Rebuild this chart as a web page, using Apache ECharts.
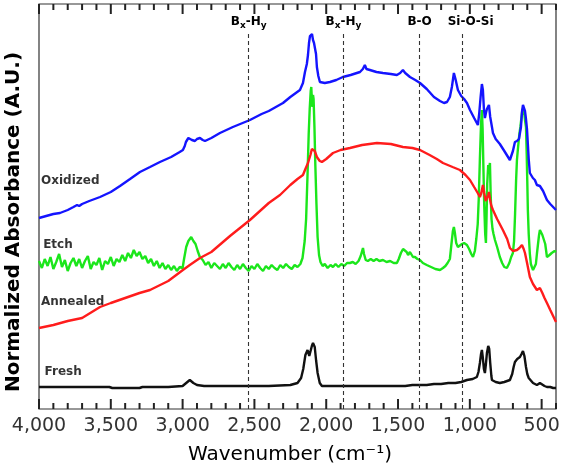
<!DOCTYPE html>
<html>
<head>
<meta charset="utf-8">
<script src="https://cdn.jsdelivr.net/npm/echarts@6/dist/echarts.min.js"></script>
<style>
  html, body { margin: 0; padding: 0; background: #ffffff; }
  #chart { width: 561px; height: 468px; }
</style>
</head>
<body>
<div id="chart"></div>
<script>
// FTIR spectra of the four film states, [wavenumber (cm-1), stacked absorbance (A.U.)]
const fresh = [
  [4000,22],[3800,22],[3600,22],[3510,22],[3490,21],[3400,21],[3300,21],[3280,22],[3100,22],[3000,23],
  [2975,26],[2950,29],[2925,26],[2900,24],[2850,23],[2600,23],[2400,23],[2250,24],[2200,26],[2175,31],
  [2160,40],[2145,54],[2130,59],[2118,53],[2110,55],[2100,63],[2092,66],[2080,62],[2070,48],[2060,36],
  [2045,26],[2030,23],[1900,23],[1700,23],[1500,23],[1450,23],[1400,24],[1350,24],[1300,24],[1250,25],
  [1200,25],[1150,26],[1100,26],[1060,27],[1020,29],[980,30],[951,32],[940,37],[930,46],[922,55],
  [916,59],[910,52],[902,40],[895,36],[888,45],[881,56],[872,63],[865,60],[858,46],[850,33],
  [846,29],[820,27],[791,26],[760,27],[721,29],[705,35],[695,42],[686,47],[670,50],[660,49],
  [651,52],[640,55],[630,58],[620,53],[609,42],[600,35],[590,31],[582,29],[560,26],[533,24],
  [520,25],[512,26],[500,25],[480,23],[463,22],[440,22],[420,21],[400,21]
];

const etch = [
  [4000,148],[3980,141],[3960,150],[3940,143],[3920,152],[3900,140],[3880,147],[3860,155],[3840,142],[3820,149],
  [3800,138],[3780,146],[3760,151],[3740,143],[3720,150],[3700,141],[3680,148],[3660,153],[3640,140],[3620,147],
  [3600,144],[3580,151],[3560,139],[3540,148],[3520,145],[3500,152],[3480,143],[3460,150],[3440,147],[3420,154],
  [3400,148],[3380,156],[3360,151],[3340,159],[3320,153],[3300,157],[3280,150],[3260,153],[3240,146],[3220,150],
  [3200,143],[3180,148],[3160,141],[3140,146],[3120,140],[3100,144],[3080,139],[3060,143],[3040,138],[3020,142],
  [3000,141],[2990,150],[2975,162],[2960,168],[2950,166],[2940,172],[2925,168],[2910,165],[2895,158],[2880,152],
  [2860,149],[2840,144],[2820,147],[2800,141],[2780,146],[2760,143],[2740,140],[2720,145],[2700,141],[2680,146],
  [2660,142],[2640,139],[2620,144],[2600,140],[2580,145],[2560,141],[2540,138],[2520,143],[2500,140],[2480,145],
  [2460,141],[2440,138],[2420,143],[2400,140],[2380,144],[2360,141],[2340,139],[2320,144],[2300,141],[2280,145],
  [2260,142],[2240,140],[2220,144],[2200,142],[2180,145],[2165,151],[2150,168],[2140,190],[2130,235],[2122,275],
  [2115,300],[2108,318],[2104,322],[2100,310],[2096,302],[2092,314],[2088,310],[2082,282],[2076,245],[2068,205],
  [2060,172],[2050,154],[2040,147],[2025,143],[2010,145],[1990,141],[1970,144],[1953,142],[1935,145],[1915,142],
  [1895,145],[1875,143],[1855,146],[1835,146],[1815,147],[1795,145],[1775,148],[1760,153],[1750,158],[1744,161],
  [1737,155],[1725,149],[1710,148],[1690,150],[1670,148],[1650,150],[1630,148],[1605,149],[1580,147],[1555,148],
  [1530,146],[1508,146],[1495,150],[1480,156],[1465,160],[1452,161],[1440,157],[1430,154],[1417,157],[1405,155],
  [1396,152],[1382,152],[1365,150],[1347,149],[1327,146],[1300,144],[1270,142],[1240,140],[1208,139],[1187,141],
  [1170,143],[1155,146],[1139,150],[1128,165],[1118,178],[1111,182],[1104,176],[1095,166],[1083,162],[1070,163],
  [1055,165],[1040,166],[1020,164],[1005,160],[990,155],[978,152],[965,158],[955,170],[945,185],[938,210],
  [930,250],[922,285],[916,299],[911,280],[906,245],[900,205],[893,175],[888,166],[884,190],[879,225],
  [872,244],[866,240],[860,246],[855,215],[849,190],[842,180],[835,175],[825,169],[810,162],[791,152],
  [775,146],[760,142],[742,141],[725,146],[712,152],[700,156],[692,168],[685,195],[678,228],[672,249],
  [664,262],[655,275],[648,282],[640,292],[633,300],[628,302],[622,297],[615,288],[609,282],[604,255],
  [600,228],[596,199],[590,175],[582,155],[575,145],[568,142],[560,139],[547,137],[540,145],[533,155],
  [526,164],[518,174],[512,179],[504,177],[495,174],[484,172],[475,165],[463,152],[455,151],[445,154],
  [430,156],[420,155],[410,158],[400,157]
];

const annealed = [
  [4000,81],[3900,84],[3800,88],[3700,91],[3575,102],[3500,106],[3400,111],[3300,116],[3227,119],[3100,128],
  [2998,139],[2950,144],[2879,151],[2800,157],[2670,173],[2531,189],[2400,206],[2322,214],[2250,224],[2200,230],
  [2162,234],[2145,240],[2127,246],[2110,254],[2100,260],[2092,262],[2080,258],[2065,252],[2045,248],[2030,247],
  [2000,250],[1953,256],[1900,259],[1835,261],[1750,264],[1647,266],[1550,265],[1466,262],[1400,261],[1347,259],
  [1280,254],[1230,250],[1187,246],[1120,242],[1069,239],[1030,234],[999,229],[970,222],[945,216],[930,212],
  [920,216],[909,224],[900,216],[890,208],[881,206],[872,214],[867,217],[860,210],[850,203],[839,199],
  [810,190],[770,179],[740,170],[721,161],[700,158],[672,159],[655,161],[637,164],[625,160],[616,156],
  [600,145],[582,132],[560,125],[533,119],[520,120],[512,121],[495,116],[480,111],[463,106],[440,99],
  [420,93],[400,87]
];

const oxidized = [
  [4000,191],[3950,193],[3900,195],[3854,196],[3800,199],[3760,202],[3735,204],[3720,203],[3700,205],[3650,208],
  [3575,212],[3500,217],[3436,223],[3366,230],[3297,237],[3227,242],[3158,247],[3080,252],[3020,257],[2998,259],
  [2985,263],[2977,267],[2960,271],[2949,272],[2935,269],[2914,268],[2900,270],[2879,271],[2860,269],[2844,268],
  [2800,271],[2740,276],[2650,282],[2531,289],[2450,295],[2400,298],[2301,306],[2250,312],[2183,319],[2162,326],
  [2148,337],[2135,345],[2127,354],[2120,366],[2113,373],[2106,374],[2099,375],[2092,369],[2085,366],[2078,364],
  [2071,355],[2065,342],[2055,333],[2044,327],[2010,326],[1974,327],[1930,329],[1884,332],[1830,334],[1765,337],
  [1745,340],[1731,344],[1720,340],[1696,339],[1650,337],[1605,336],[1550,335],[1508,334],[1485,336],[1466,339],
  [1450,336],[1417,332],[1380,329],[1347,326],[1300,320],[1250,312],[1208,308],[1180,306],[1159,307],[1139,312],
  [1125,322],[1111,336],[1100,330],[1083,319],[1060,313],[1040,310],[1020,306],[999,299],[970,291],[944,284],
  [935,295],[925,312],[916,325],[909,319],[902,300],[895,291],[888,296],[881,300],[867,304],[858,292],
  [846,282],[839,276],[820,270],[791,265],[760,258],[721,249],[700,258],[686,267],[672,268],[658,270],
  [644,282],[637,297],[630,304],[623,306],[616,298],[609,290],[602,280],[590,250],[582,236],[561,231],
  [547,229],[533,224],[520,226],[512,223],[490,218],[463,209],[440,205],[420,202],[400,199]
];

// Assigned absorption bands (dashed guides)
const bandWavenumbers = [2540, 1880, 1350, 1050];
const bandNames = ['B_x-H_y', 'B_x-H_y', 'B-O', 'Si-O-Si'];

// Axis ticks: labelled every 500, minor marks every 100
const majorTicks = [4000, 3500, 3000, 2500, 2000, 1500, 1000, 500];
const minorTicks = [3900,3800,3700,3600,3400,3300,3200,3100,2900,2800,2700,2600,2400,2300,2200,2100,
  1900,1800,1700,1600,1400,1300,1200,1100,900,800,700,600,400];

const FONT = 'DejaVu Sans';
const AXIS_COLOR = '#222';
const Y_MAX = 405;          // one y unit per pixel of plot height
const MAJOR_LEN = 10;
const MINOR_LEN = 6;
const TOP_OF_GUIDE = 377;

function richName(s) {
  return s.split(/(_\w)/).filter(Boolean)
    .map(p => p[0] === '_' ? '{s|' + p.slice(1) + '}' : '{m|' + p + '}').join('');
}

const traceStyle = [
  { name: 'Fresh', data: fresh, color: '#111111', tag: [3975, 37] },
  { name: 'Etch', data: etch, color: '#1be61b', tag: [3985, 164] },
  { name: 'Annealed', data: annealed, color: '#ff1c1c', tag: [4000, 107] },
  { name: 'Oxidized', data: oxidized, color: '#1414ff', tag: [4000, 228] }
];

const series = traceStyle.map(t => ({
  name: t.name, type: 'line', data: t.data,
  showSymbol: false, symbol: 'none', smooth: false, animation: false,
  lineStyle: { color: t.color, width: 2.4 }
}));

// inward tick marks on the bottom and top frame edges, drawn as thin bars
function tickSeries(values, len) {
  const pts = [];
  values.forEach(v => { pts.push([v, len / 2]); pts.push([v, Y_MAX - len / 2]); });
  return {
    type: 'scatter', data: pts, symbol: 'rect', symbolSize: [2, len],
    itemStyle: { color: AXIS_COLOR, opacity: 1, borderWidth: 0 },
    silent: true, animation: false, clip: false, z: 10,
    emphasis: { disabled: true }
  };
}
series.push(tickSeries(majorTicks, MAJOR_LEN));
series.push(tickSeries(minorTicks, MINOR_LEN));

// dashed band guides with their labels
series.push({
  name: 'bands', type: 'line', data: [], animation: false,
  markLine: {
    silent: true, symbol: ['none', 'none'], animation: false,
    lineStyle: { color: '#333', type: [4, 3], width: 1.1 },
    label: {
      show: true, position: 'end', distance: 2,
      formatter: p => richName(p.name),
      rich: {
        m: { fontFamily: FONT, fontWeight: 'bold', fontSize: 12, color: '#000', lineHeight: 16, verticalAlign: 'middle' },
        s: { fontFamily: FONT, fontWeight: 'bold', fontSize: 9, color: '#000', lineHeight: 16, verticalAlign: 'bottom', padding: [5, 0, 0, 0] }
      }
    },
    data: bandWavenumbers.map((w, i) => [
      { name: bandNames[i], coord: [w, 0], label: i === 3 ? { offset: [8, 0] } : {} },
      { coord: [w, TOP_OF_GUIDE] }
    ])
  }
});

// trace names at the left edge
series.push({
  name: 'names', type: 'scatter', symbolSize: 0, animation: false, silent: true,
  data: traceStyle.map(t => ({ value: t.tag, name: t.name })),
  label: {
    show: true, position: 'right', distance: 2, formatter: p => p.name,
    fontFamily: FONT, fontWeight: 'bold', fontSize: 12, color: '#000'
  }
});

const chart = echarts.init(document.getElementById('chart'), null, { renderer: 'canvas' });
chart.setOption({
  animation: false,
  backgroundColor: '#ffffff',
  grid: { left: 39, right: 5, top: 4, bottom: 59, show: true, borderColor: '#333', borderWidth: 1.2,
    containLabel: false, outerBoundsMode: 'none' },
  xAxis: {
    type: 'value', min: 400, max: 4000, inverse: true,
    axisLine: { show: false }, splitLine: { show: false }, axisTick: { show: false },
    axisLabel: {
      show: true, customValues: majorTicks, margin: 8, color: '#333',
      fontFamily: FONT, fontSize: 19,
      formatter: v => Number(v).toLocaleString('en-US')
    }
  },
  yAxis: { type: 'value', min: 0, max: Y_MAX, show: false },
  series: series,
  graphic: [
    {
      type: 'text', x: 14, y: 222, rotation: Math.PI / 2,
      style: { text: 'Normalized Absorbance (A.U.)', font: 'bold 20px "DejaVu Sans"', fill: '#000',
        textAlign: 'center', textVerticalAlign: 'middle' }
    },
    {
      type: 'text', x: 290, y: 455,
      style: { text: 'Wavenumber (cm\u207B\u00B9)', font: '20px "DejaVu Sans"', fill: '#000',
        textAlign: 'center', textVerticalAlign: 'middle' }
    }
  ]
});
</script>
</body>
</html>
